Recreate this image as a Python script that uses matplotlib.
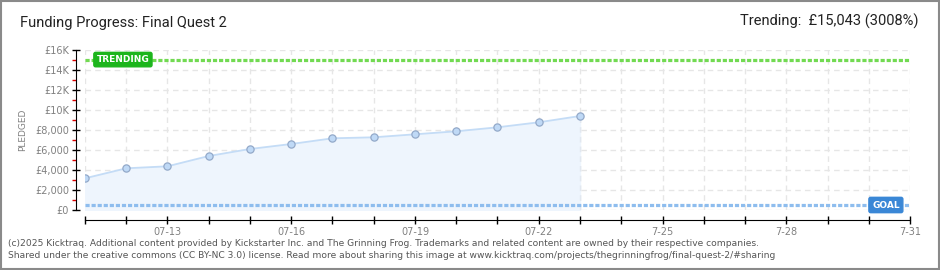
import matplotlib.pyplot as plt
from matplotlib.patches import Rectangle
from matplotlib.ticker import FixedLocator, FuncFormatter

# pledged totals per day in July (day of month -> GBP)
days = [11, 12, 13, 14, 15, 16, 17, 18, 19, 20, 21, 22, 23]
pledged = [3170, 4170, 4370, 5400, 6100, 6600, 7170, 7270, 7570, 7870, 8270, 8770, 9400]
goal = 500
trending = 15043
trend_pct = 3008
tick_days = list(range(11, 32))
tick_labels = {13: '07-13', 16: '07-16', 19: '07-19', 22: '07-22',
               25: '7-25', 28: '7-28', 31: '7-31'}
y_labels = {0: '£0', 2000: '£2,000', 4000: '£4,000', 6000: '£6,000', 8000: '£8,000',
            10000: '£10K', 12000: '£12K', 14000: '£14K', 16000: '£16K'}

W, H = 940, 270
fig = plt.figure(figsize=(9.4, 2.7), dpi=100)
ax = fig.add_axes([85 / W, (H - 210) / H, 825 / W, 160 / H])

ax.set_xlim(11, 31)
ax.set_ylim(0, 16000)

# grid
for d in tick_days:
    ax.axvline(d, color='#e6e6e6', lw=1, ls=(0, (4, 3)), zorder=0)
for v in range(0, 16001, 2000):
    ax.axhline(v, color='#e6e6e6', lw=1, ls=(0, (4, 3)), zorder=0)

# pledged area
ax.fill_between(days, pledged, 0, color='#eef5fd', zorder=1)
ax.plot([days[-1], days[-1]], [0, pledged[-1]], color='#e2e8f0', lw=1, ls=(0, (4, 3)), zorder=1)
ax.plot(days, pledged, color='#c4dcf6', lw=1.3, zorder=2)
ax.plot(days, pledged, 'o', ms=5.2, mfc='#bfd9f6', mec='#93a9c9', mew=0.9, zorder=3)

# trending and goal lines
ax.axhline(trending, color='#72da52', lw=2.3, ls=(0, (1.3, 0.6)), zorder=2)
ax.axhline(goal, color='#8ebdee', lw=2.3, ls=(0, (1.3, 0.6)), zorder=2)

ax.text(11.28, trending, 'TRENDING', color='white', fontsize=6.5, fontweight='bold',
        va='center', ha='left', zorder=5, family='DejaVu Sans',
        bbox=dict(boxstyle='round,pad=0.3,rounding_size=0.2', fc='#1cb51c', ec='#1cb51c'))
ax.text(30.75, goal, 'GOAL', color='white', fontsize=6.5, fontweight='bold',
        va='center', ha='right', zorder=5, family='DejaVu Sans',
        bbox=dict(boxstyle='round,pad=0.35,rounding_size=0.2', fc='#3a87d6', ec='#3a87d6'))

# spines and ticks
for s in ['top', 'right']:
    ax.spines[s].set_visible(False)
ax.spines['left'].set_position(('outward', 6.5))
ax.spines['bottom'].set_position(('outward', 7.2))
ax.spines['left'].set_color('black')
ax.spines['bottom'].set_color('black')

ax.xaxis.set_major_locator(FixedLocator(tick_days))
ax.xaxis.set_major_formatter(FuncFormatter(lambda x, p: tick_labels.get(int(round(x)), '')))
ax.yaxis.set_major_locator(FixedLocator(list(y_labels.keys())))
ax.yaxis.set_major_formatter(FuncFormatter(lambda v, p: y_labels.get(int(round(v)), '')))
ax.yaxis.set_minor_locator(FixedLocator(list(range(1000, 16000, 2000))))

ax.tick_params(axis='both', which='major', direction='inout', length=6, width=1,
               color='black', labelsize=7, labelcolor='#808080')
ax.tick_params(axis='y', which='minor', direction='out', length=3, width=1, color='#dd0000')
ax.tick_params(axis='x', pad=2)
ax.tick_params(axis='y', pad=2)

ax.set_ylabel('PLEDGED', fontsize=6.5, color='#808080', labelpad=6)

# header text
fig.text(20 / W, 1 - 23 / H, 'Funding Progress: Final Quest 2', fontsize=10.5,
         color='#222222', va='center', ha='left', family='Roboto')
fig.text(918 / W, 1 - 21 / H, 'Trending:  £{:,} ({}%)'.format(trending, trend_pct),
         fontsize=10.5, color='#222222', va='center', ha='right', family='Roboto')

# footer
fig.text(8 / W, 1 - 243 / H,
         '(c)2025 Kicktraq. Additional content provided by Kickstarter Inc. and The Grinning Frog. '
         'Trademarks and related content are owned by their respective companies.',
         fontsize=6.6, color='#555555', va='center', ha='left')
fig.text(8 / W, 1 - 256 / H,
         'Shared under the creative commons (CC BY-NC 3.0) license. Read more about sharing this image at '
         'www.kicktraq.com/projects/thegrinningfrog/final-quest-2/#sharing',
         fontsize=6.6, color='#555555', va='center', ha='left')

# outer frame
fig.patches.append(Rectangle((1 / W, 1 / H), 938 / W, 268 / H, transform=fig.transFigure,
                             fill=False, ec='#8a8a8a', lw=1.5))

fig.savefig('out.png', dpi=100)
